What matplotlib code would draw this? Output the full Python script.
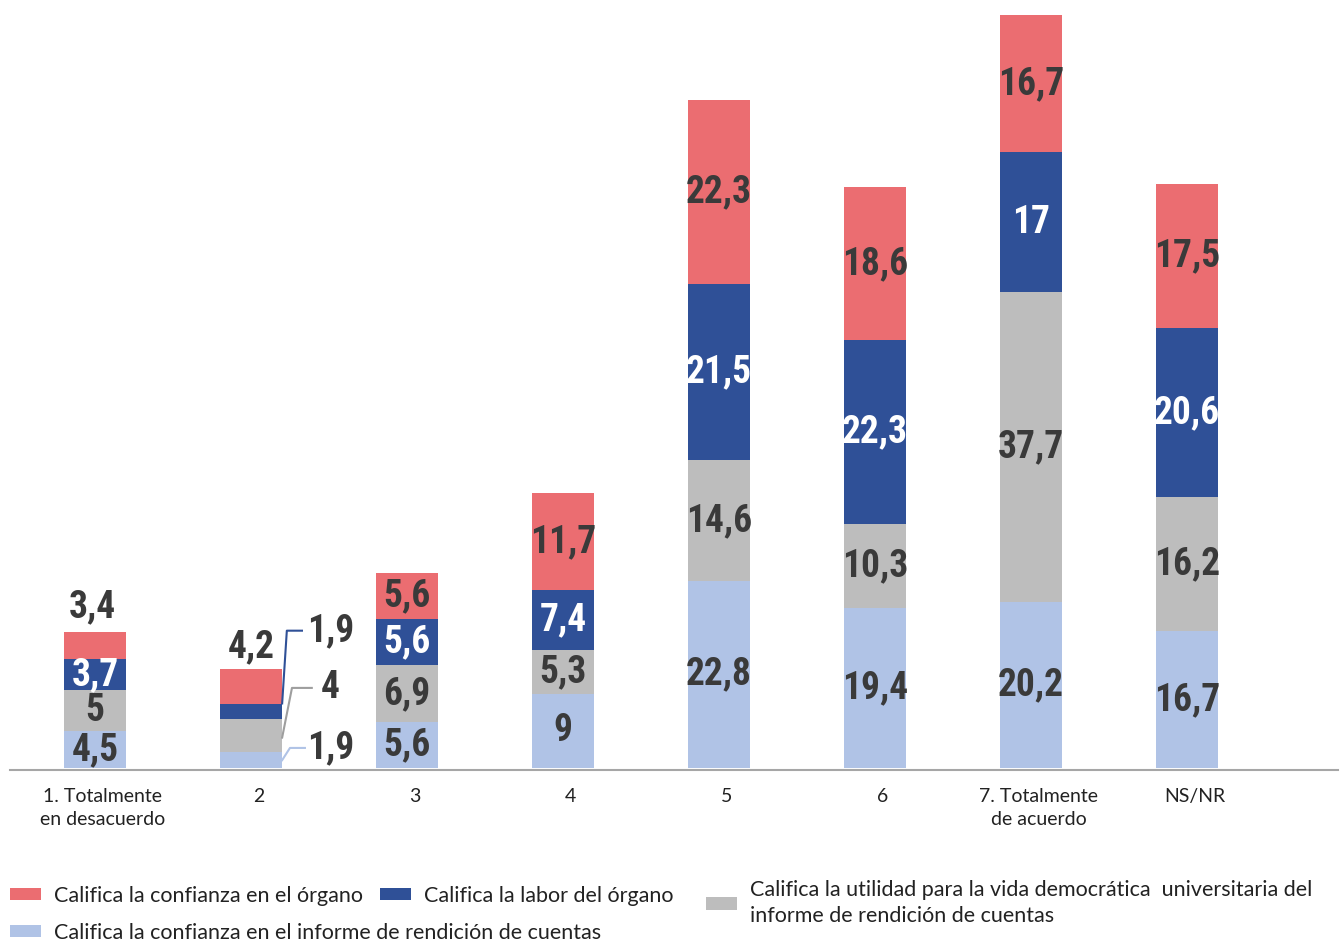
import matplotlib.pyplot as plt
from matplotlib import font_manager
import numpy as np

categories = ['1. Totalmente\nen desacuerdo', '2', '3', '4', '5', '6',
              '7. Totalmente\nde acuerdo', 'NS/NR']
informe = [4.5, 1.9, 5.6, 9, 22.8, 19.4, 20.2, 16.7]
utilidad = [5, 4, 6.9, 5.3, 14.6, 10.3, 37.7, 16.2]
labor = [3.7, 1.9, 5.6, 7.4, 21.5, 22.3, 17, 20.6]
confianza = [3.4, 4.2, 5.6, 11.7, 22.3, 18.6, 16.7, 17.5]

names = ['Califica la confianza en el informe de rendición de cuentas',
         'Califica la utilidad para la vida democrática  universitaria del\ninforme de rendición de cuentas',
         'Califica la labor del órgano',
         'Califica la confianza en el órgano']
colors = ['#B0C3E6', '#BDBDBD', '#2F5097', '#EB6D71']
txt_colors = ['#3A3A3A', '#3A3A3A', 'white', '#3A3A3A']

# pick a condensed bold face for the value labels if one is installed
fonts = font_manager.fontManager.ttflist
have = {f.name for f in fonts}
lab_font = None
for fam, size in [('Roboto Condensed', 27), ('Liberation Sans Narrow', 27),
                  ('Noto Sans Condensed', 25), ('Open Sans Condensed', 26),
                  ('DejaVu Sans Condensed', 23)]:
    if fam in have:
        lab_font = dict(family=[fam], weight='bold', size=size)
        break
if lab_font is None:
    lab_font = dict(family=['DejaVu Sans'], weight='bold', size=21)

txt_font = ['Lato', 'DejaVu Sans']


def fmt(v):
    return str(int(v)) if v == int(v) else str(v).replace('.', ',')


fig = plt.figure(figsize=(13.4, 9.43), dpi=100)
ax = fig.add_axes([10 / 1340, 175 / 943, 1328 / 1340, 768 / 943])
for s in ['top', 'left', 'right']:
    ax.spines[s].set_visible(False)
ax.spines['bottom'].set_position(('data', -0.25))
ax.spines['bottom'].set_color('#A6A6A6')
ax.spines['bottom'].set_linewidth(1.5)

x = np.arange(len(categories))
series = [informe, utilidad, labor, confianza]
bottom = np.zeros(len(categories))
bars = []
for i, vals in enumerate(series):
    b = ax.bar(x, vals, 0.4, bottom=bottom, color=colors[i], label=names[i])
    bars.append(b)
    for j, v in enumerate(vals):
        if j == 1:
            continue  # small bar, labelled outside
        if j == 0 and i == 3:
            ax.text(x[j] - 0.02, bottom[j] + v + 3.0, fmt(v), ha='center', va='center',
                    color=txt_colors[i], **lab_font)
            continue
        ax.text(x[j], bottom[j] + v / 2, fmt(v), ha='center', va='center',
                color=txt_colors[i], **lab_font)
    bottom = bottom + np.array(vals)

# labels for the small second bar
tops = np.cumsum([informe[1], utilidad[1], labor[1], confianza[1]])
ax.text(x[1], tops[3] + 2.8, fmt(confianza[1]), ha='center', va='center',
        color='#3A3A3A', **lab_font)
side = [(informe[1], 2.44, tops[0] / 2, 0.25, 0.346, colors[0]),
        (utilidad[1], 9.74, (tops[0] + tops[1]) / 2 - 0.2, 0.263, 0.39, '#9E9E9E'),
        (labor[1], 16.7, (tops[1] + tops[2]) / 2 + 1.0, 0.23, 0.327, colors[2])]
for v, ly, sy, kx, ex, c in side:
    ax.plot([x[1] + 0.2, x[1] + kx, x[1] + ex], [sy, ly, ly], color=c, lw=1.5)
    ax.text(x[1] + 0.51, ly, fmt(v), ha='center', va='center', color='#3A3A3A', **lab_font)

ax.set_xlim(-0.545, 7.97)
ax.set_ylim(0, 93.4)
ax.set_xticks(x + 0.05)
ax.set_xticklabels(categories)
ax.tick_params(axis='x', length=0, pad=13, labelsize=14, labelcolor='#222222',
               labelfontfamily='Lato')
for lbl in ax.get_xticklabels():
    lbl.set_linespacing(1.45)
ax.set_yticks([])

leg_kw = dict(frameon=False, handlelength=1.45, handleheight=0.5,
              handletextpad=0.6, borderaxespad=0, borderpad=0,
              prop={'family': txt_font, 'size': 15.5})
anchors = [(10 / 1340, 0 / 943), (706 / 1340, 17 / 943), (380 / 1340, 37 / 943), (10 / 1340, 37 / 943)]
for i in range(4):
    lg = fig.legend(handles=[bars[i]], labels=[names[i]], loc='lower left',
                    bbox_to_anchor=anchors[i], **leg_kw)
    for t in lg.get_texts():
        t.set_color('#222222')
        t.set_linespacing(1.35)

fig.savefig('out.png', dpi=100)
